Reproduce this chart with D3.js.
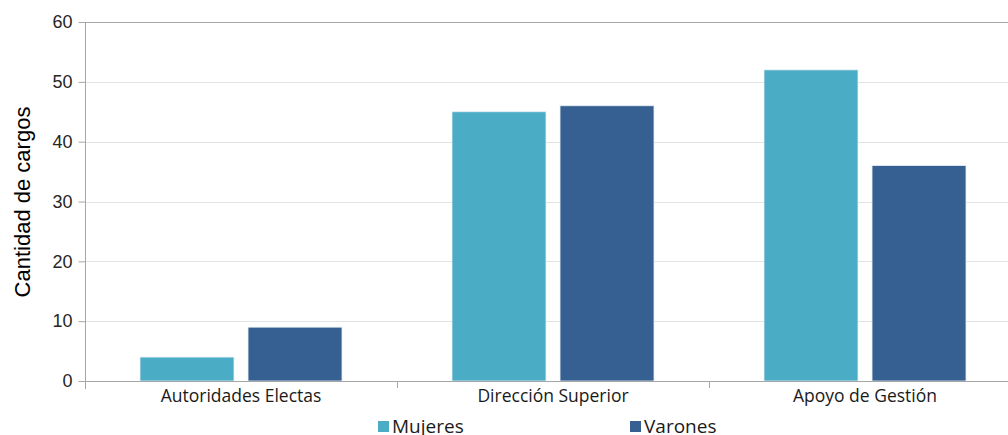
<!DOCTYPE html>
<html>
<head>
<meta charset="utf-8">
<script src="https://cdn.jsdelivr.net/npm/d3@7"></script>
<style>
  body { margin: 0; background: #fff; }
  svg { display: block; }
</style>
</head>
<body>
<svg id="chart"></svg>
<script>
var width = 1008;
var height = 435;

var categories = ["Autoridades Electas", "Dirección Superior", "Apoyo de Gestión"];
var seriesNames = ["Mujeres", "Varones"];
var mujeres = [4, 45, 52];
var varones = [9, 46, 36];
var yTicks = [0, 10, 20, 30, 40, 50, 60];
var colors = ["#4bacc6", "#366092"];

var margin = { left: 85, top: 22, bottom: 381, right: 1021 };

var svg = d3.select("#chart").attr("width", width).attr("height", height);

var xScale = d3.scaleBand()
  .domain(categories)
  .range([margin.left, margin.right])
  .paddingInner(0)
  .paddingOuter(0);

var inner = d3.scaleBand()
  .domain(seriesNames)
  .range([55, xScale.bandwidth() - 55])
  .paddingInner(0.13);

var yScale = d3.scaleLinear().domain([0, 60]).range([margin.bottom, margin.top]);

// gridlines
svg.append("g")
  .selectAll("line")
  .data(yTicks.filter((d) => d > 0 && d < 60))
  .enter()
  .append("line")
  .attr("x1", margin.left)
  .attr("x2", width)
  .attr("y1", (d) => Math.round(yScale(d)) + 0.5)
  .attr("y2", (d) => Math.round(yScale(d)) + 0.5)
  .attr("stroke", "#e3e3e3")
  .attr("stroke-width", 1.2);

// top border
svg.append("line")
  .attr("x1", margin.left).attr("x2", width)
  .attr("y1", Math.round(yScale(60)) + 0.5).attr("y2", Math.round(yScale(60)) + 0.5)
  .attr("stroke", "#a6a6a6");

// bars
var data = [];
categories.forEach((c, i) => {
  data.push({ cat: c, s: "Mujeres", v: mujeres[i] });
  data.push({ cat: c, s: "Varones", v: varones[i] });
});

svg.append("g")
  .selectAll("rect")
  .data(data)
  .enter()
  .append("rect")
  .attr("x", (d) => xScale(d.cat) + inner(d.s))
  .attr("width", inner.bandwidth())
  .attr("y", (d) => yScale(d.v))
  .attr("height", (d) => yScale(0) - yScale(d.v))
  .attr("fill", (d) => colors[seriesNames.indexOf(d.s)])
  .attr("stroke", "#e8eef5")
  .attr("stroke-width", 0.8);

// y axis
var yAxis = d3.axisLeft(yScale).tickValues(yTicks).tickSize(7).tickPadding(6);
var gy = svg.append("g")
  .attr("transform", `translate(${margin.left + 0.5}, 0)`)
  .call(yAxis);
gy.select(".domain").attr("stroke", "#a6a6a6").attr("d", `M-0,${margin.top}V${margin.bottom + 8}`);
gy.selectAll(".tick line").attr("stroke", "#a6a6a6");
gy.selectAll(".tick text")
  .attr("fill", "#262626")
  .style("font-family", "Liberation Sans, Arial, sans-serif")
  .style("font-size", "18px");

// x axis
var xAxis = d3.axisBottom(xScale).tickSize(0).tickPadding(8);
var gx = svg.append("g")
  .attr("transform", `translate(0, ${margin.bottom + 0.5})`)
  .call(xAxis);
gx.select(".domain").attr("stroke", "#a6a6a6").attr("d", `M${margin.left},0H${width}`);
gx.selectAll(".tick text")
  .attr("fill", "#1a1a1a")
  .style("font-family", "'Open Sans', Lato, sans-serif")
  .style("font-size", "17.5px");

// category separators
svg.append("g")
  .selectAll("line")
  .data(categories.slice(1))
  .enter()
  .append("line")
  .attr("x1", (d) => Math.round(xScale(d)) + 0.5)
  .attr("x2", (d) => Math.round(xScale(d)) + 0.5)
  .attr("y1", margin.bottom)
  .attr("y2", margin.bottom + 7)
  .attr("stroke", "#a6a6a6");

// y axis title
svg.append("text")
  .attr("transform", `translate(30, 202) rotate(-90)`)
  .attr("text-anchor", "middle")
  .style("font-family", "Liberation Sans, Arial, sans-serif")
  .style("font-size", "22px")
  .attr("fill", "#000")
  .text("Cantidad de cargos");

// legend
var legendX = [378, 630];
var legend = svg.append("g")
  .selectAll("g")
  .data(seriesNames)
  .enter()
  .append("g")
  .attr("transform", (d, i) => `translate(${legendX[i]}, 421)`);
legend.append("rect")
  .attr("width", 11).attr("height", 11)
  .attr("fill", (d, i) => colors[i]);
legend.append("text")
  .attr("x", 14).attr("y", 12)
  .style("font-family", "'Open Sans', Lato, sans-serif")
  .style("font-size", "19px")
  .attr("fill", "#1a1a1a")
  .text((d) => d);
</script>
</body>
</html>
